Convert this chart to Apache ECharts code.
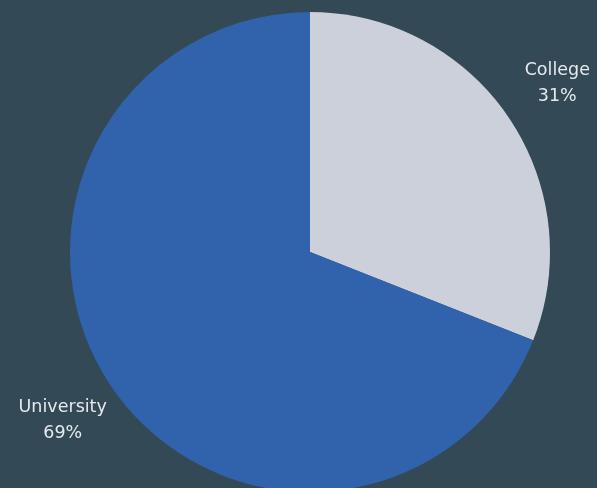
<!DOCTYPE html>
<html>
<head>
<meta charset="utf-8">
<script src="https://cdn.jsdelivr.net/npm/echarts@6/dist/echarts.min.js"></script>
<style>
html,body{margin:0;padding:0;background:#334956;}
#c{width:597px;height:488px;}
</style>
</head>
<body>
<div id="c"></div>
<script>
var categories = ['College', 'University'];
var values = [31, 69];
var colors = ['#cbd0db', '#3163ad'];

var pieData = categories.map(function (c, i) {
  return { name: c, value: values[i], itemStyle: { color: colors[i] } };
});
var labelData = categories.map(function (c, i) {
  return { name: c, value: values[i] };
});

var chart = echarts.init(document.getElementById('c'));
chart.setOption({
  backgroundColor: '#334956',
  animation: false,
  series: [
    {
      type: 'pie',
      center: [310, 252],
      radius: 240,
      startAngle: 90,
      clockwise: true,
      data: pieData,
      label: { show: false },
      labelLine: { show: false },
      silent: true
    },
    {
      type: 'pie',
      center: [310, 252],
      radius: [278, 314],
      startAngle: 90,
      clockwise: true,
      data: labelData,
      itemStyle: { color: 'rgba(0,0,0,0)' },
      label: {
        show: true,
        position: 'inside',
        formatter: '{b}\n{d}%',
        color: '#e6eaee',
        fontFamily: 'DejaVu Sans',
        fontSize: 17.5,
        lineHeight: 26,
        align: 'center'
      },
      labelLine: { show: false },
      silent: true
    }
  ]
});
</script>
</body>
</html>
